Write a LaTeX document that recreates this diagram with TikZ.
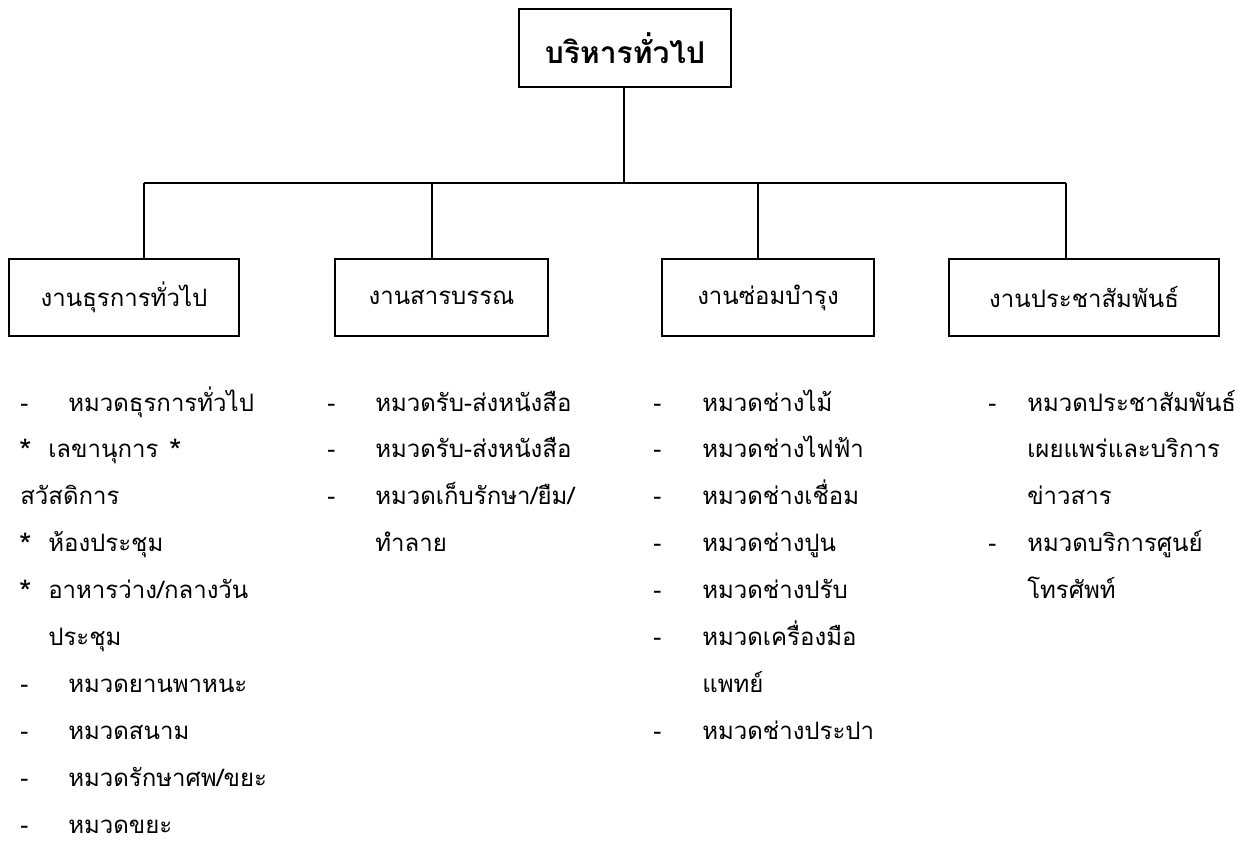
\documentclass[tikz,border=0pt]{standalone}
\usepackage{fontspec}
\newfontfamily\thai[Script=Thai]{Loma}
\begin{document}
\begin{tikzpicture}[x=0.75pt,y=-0.75pt,
  unitbox/.style 2 args={draw,line width=1.4pt,inner sep=0pt,
    minimum width={#1*0.75pt},minimum height={#2*0.75pt},
    font=\thai\fontsize{18}{22}\selectfont},
  headbox/.style 2 args={unitbox={#1}{#2},font=\thai\bfseries\fontsize{22.5}{26}\selectfont},
  wire/.style={line width=1.1pt},
  item/.style={anchor=base west,inner sep=0pt,font=\thai\fontsize{18}{22}\selectfont},
  bullet/.style={item,font=\thai\fontsize{24}{28}\selectfont}]
\useasboundingbox (0,0) rectangle (1257,843);

% boxes
\node[headbox={212}{78}] (top) at (625,48) {บริหารทั่วไป};
\node[unitbox={230}{77}] (b1) at (124,297.5) {งานธุรการทั่วไป};
\node[unitbox={213}{77}] (b2) at (441.5,297.5) {งานสารบรรณ};
\node[unitbox={212}{77}] (b3) at (768,297.5) {งานซ่อมบำรุง};
\node[unitbox={270}{77}] (b4) at (1084,297.5) {งานประชาสัมพันธ์};

% bus line and drops
\coordinate (hub) at (624,183);
\coordinate (d1) at (144,183);
\coordinate (d2) at (432,183);
\coordinate (d3) at (758,183);
\coordinate (d4) at (1066,183);
\draw[wire] (top.south -| hub) -- (hub);
\draw[wire] (d1) -- (d4);
\draw[wire] (d1) -- (d1 |- b1.north);
\draw[wire] (d2) -- (d2 |- b2.north);
\draw[wire] (d3) -- (d3 |- b3.north);
\draw[wire] (d4) -- (d4 |- b4.north);

% column 1
\node[item] (a0d) at (20,411) {-};
\node[item] (a0)  at (68,411) {หมวดธุรการทั่วไป};
\node[bullet] (a1s) at (19,462.9) {*};
\node[item] (a1)  at (48,457.9) {เลขานุการ};
\node[bullet] (a1t) at (169,462.9) {*};
\node[item] (a2)  at (20,504.8) {สวัสดิการ};
\node[bullet] (a3s) at (19,556.7) {*};
\node[item] (a3)  at (48,551.7) {ห้องประชุม};
\node[bullet] (a4s) at (19,603.6) {*};
\node[item] (a4)  at (48,598.6) {อาหารว่าง/กลางวัน};
\node[item] (a5)  at (48,645.5) {ประชุม};
\node[item] (a6d) at (20,692.4) {-};
\node[item] (a6)  at (68,692.4) {หมวดยานพาหนะ};
\node[item] (a7d) at (20,739.3) {-};
\node[item] (a7)  at (68,739.3) {หมวดสนาม};
\node[item] (a8d) at (20,786.2) {-};
\node[item] (a8)  at (68,786.2) {หมวดรักษาศพ/ขยะ};
\node[item] (a9d) at (20,833) {-};
\node[item] (a9)  at (68,833) {หมวดขยะ};

% column 2
\node[item] (s0d) at (327,411) {-};
\node[item] (s0)  at (375,411) {หมวดรับ-ส่งหนังสือ};
\node[item] (s1d) at (327,457.9) {-};
\node[item] (s1)  at (375,457.9) {หมวดรับ-ส่งหนังสือ};
\node[item] (s2d) at (327,504.8) {-};
\node[item] (s2)  at (375,504.8) {หมวดเก็บรักษา/ยืม/};
\node[item] (s3)  at (375,551.7) {ทำลาย};

% column 3
\node[item] (m0d) at (653,411) {-};
\node[item] (m0)  at (702,411) {หมวดช่างไม้};
\node[item] (m1d) at (653,457.9) {-};
\node[item] (m1)  at (702,457.9) {หมวดช่างไฟฟ้า};
\node[item] (m2d) at (653,504.8) {-};
\node[item] (m2)  at (702,504.8) {หมวดช่างเชื่อม};
\node[item] (m3d) at (653,551.7) {-};
\node[item] (m3)  at (702,551.7) {หมวดช่างปูน};
\node[item] (m4d) at (653,598.6) {-};
\node[item] (m4)  at (702,598.6) {หมวดช่างปรับ};
\node[item] (m5d) at (653,645.5) {-};
\node[item] (m5)  at (702,645.5) {หมวดเครื่องมือ};
\node[item] (m6)  at (702,692.4) {แพทย์};
\node[item] (m7d) at (653,739.3) {-};
\node[item] (m7)  at (702,739.3) {หมวดช่างประปา};

% column 4
\node[item] (p0d) at (988,411) {-};
\node[item] (p0)  at (1027,411) {หมวดประชาสัมพันธ์};
\node[item] (p1)  at (1027,457.9) {เผยแพร่และบริการ};
\node[item] (p2)  at (1027,504.8) {ข่าวสาร};
\node[item] (p3d) at (988,551.7) {-};
\node[item] (p3)  at (1027,551.7) {หมวดบริการศูนย์};
\node[item] (p4)  at (1027,598.6) {โทรศัพท์};
\end{tikzpicture}
\end{document}
